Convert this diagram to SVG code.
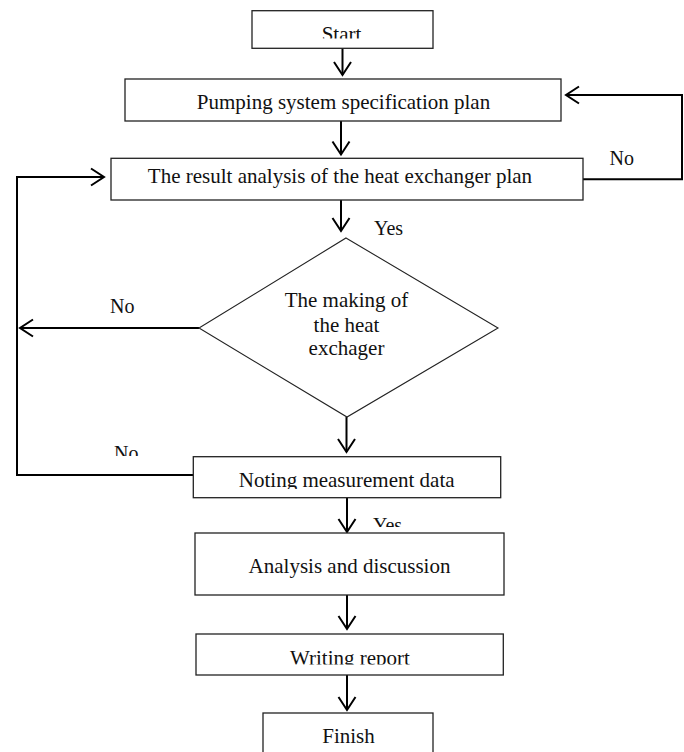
<svg xmlns="http://www.w3.org/2000/svg" width="684" height="752" viewBox="0 0 684 752">
<style>
.box{fill:#fff;stroke:#222;stroke-width:1.3}
.t{font-family:"Liberation Serif","Times New Roman",serif;font-size:21px;fill:#111;text-anchor:middle}
.lbl{font-family:"Liberation Serif","Times New Roman",serif;font-size:20px;fill:#111}
.c{fill:none;stroke:#000;stroke-width:2}
</style>
<defs>
<marker id="ah" markerUnits="userSpaceOnUse" markerWidth="20" markerHeight="20" viewBox="-15 -10 17 20" refX="0" refY="0" orient="auto" overflow="visible">
<path d="M-13,-8.5 L0,0 L-13,8.5" fill="none" stroke="#000" stroke-width="2"/>
</marker>
<clipPath id="cStart"><rect x="240" y="0" width="200" height="38.5"/></clipPath>
<clipPath id="cRes"><rect x="100" y="150" width="500" height="187"/></clipPath>
<clipPath id="cNote"><rect x="190" y="450" width="320" height="39"/></clipPath>
<clipPath id="cWrite"><rect x="190" y="630" width="320" height="34.5"/></clipPath>
<clipPath id="cNo2"><rect x="100" y="430" width="60" height="26"/></clipPath>
<clipPath id="cYes2"><rect x="360" y="505" width="60" height="22"/></clipPath>
</defs>
<rect width="684" height="752" fill="#fff"/>

<g id="connectors">
<line class="c" x1="342.5" y1="48" x2="342.5" y2="75" marker-end="url(#ah)"/>
<line class="c" x1="341" y1="121" x2="341" y2="154.5" marker-end="url(#ah)"/>
<line class="c" x1="341" y1="200" x2="341" y2="231" marker-end="url(#ah)"/>
<line class="c" x1="346.5" y1="417" x2="346.5" y2="452" marker-end="url(#ah)"/>
<line class="c" x1="347" y1="498" x2="347" y2="532" marker-end="url(#ah)"/>
<line class="c" x1="347" y1="595" x2="347" y2="629" marker-end="url(#ah)"/>
<line class="c" x1="347" y1="675" x2="347" y2="710" marker-end="url(#ah)"/>
<polyline class="c" points="583,179.3 682,179.3 682,95 566,95" marker-end="url(#ah)"/>
<polyline class="c" points="193,475 17,475 17,177 104,177" marker-end="url(#ah)"/>
<line class="c" x1="199" y1="328" x2="20" y2="328" marker-end="url(#ah)"/>
<text class="lbl" x="609.5" y="165">No</text>
<text class="lbl" x="374" y="235">Yes</text>
<text class="lbl" x="110" y="313">No</text>
<text class="lbl" x="114" y="460" clip-path="url(#cNo2)">No</text>
<text class="lbl" x="373" y="531.5" clip-path="url(#cYes2)">Yes</text>
</g>

<g id="start">
<rect class="box" x="252" y="10.7" width="181" height="37.6"/>
<text class="t" x="341.5" y="41" clip-path="url(#cStart)">Start</text>
</g>
<g id="pumping">
<rect class="box" x="125" y="79" width="436" height="42"/>
<text class="t" x="343.5" y="109">Pumping system specification plan</text>
</g>
<g id="result">
<rect class="box" x="111" y="158.3" width="472" height="41.7"/>
<text class="t" x="340" y="183" clip-path="url(#cRes)">The result analysis of the heat exchanger plan</text>
</g>
<g id="decision">
<polygon points="346,238 498,328 347,417 199,328" fill="#fff" stroke="#222" stroke-width="1.1"/>
<text class="t" x="346.5" y="306.7">The making of</text>
<text class="t" x="346.5" y="331.5">the heat</text>
<text class="t" x="346.5" y="355">exchager</text>
</g>
<g id="noting">
<rect class="box" x="193.3" y="456.7" width="307.4" height="41"/>
<text class="t" x="346.7" y="486.7" clip-path="url(#cNote)">Noting measurement data</text>
</g>
<g id="analysis">
<rect class="box" x="195" y="533" width="309" height="62"/>
<text class="t" x="349.5" y="573.3">Analysis and discussion</text>
</g>
<g id="writing">
<rect class="box" x="196" y="634" width="307.3" height="41"/>
<text class="t" x="350" y="665" clip-path="url(#cWrite)">Writing report</text>
</g>
<g id="finish">
<rect class="box" x="263" y="713" width="170" height="50"/>
<text class="t" x="348.5" y="743">Finish</text>
</g>
</svg>
